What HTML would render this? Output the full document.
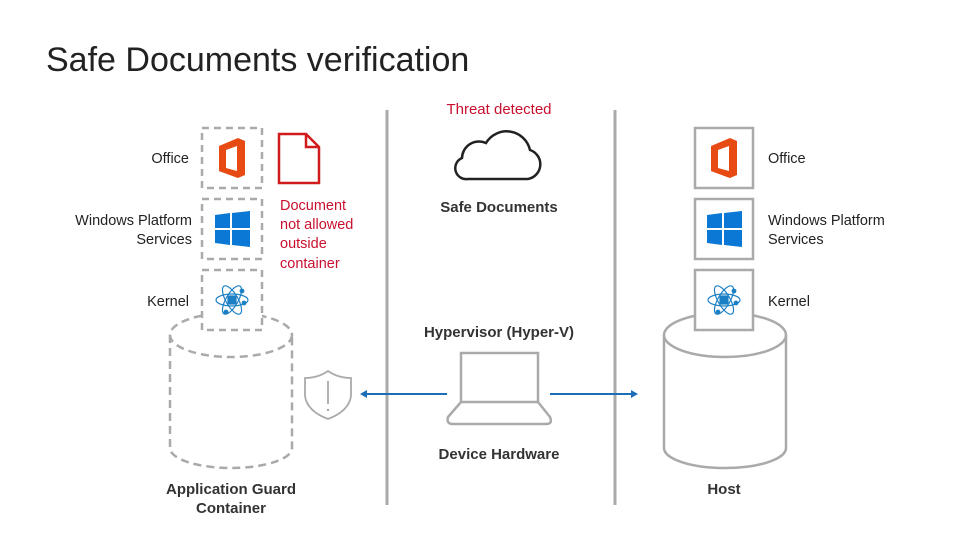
<!DOCTYPE html>
<html><head><meta charset="utf-8"><style>
body{margin:0;background:#fff}
svg{display:block}
text{font-family:"Liberation Sans",sans-serif}
</style></head><body>
<svg width="960" height="540" viewBox="0 0 960 540" xmlns="http://www.w3.org/2000/svg">
<defs>
<g id="office"><path d="M-13,-12 L6,-20 L13,-17 L13,17 L6,20 L-13,13 Z M-6,-8 L5,-12 L5,13 L-6,10 Z" fill="#e84a14" fill-rule="evenodd"/><path d="M-13,13 L5,13 L6,20 Z" fill="#e84a14"/></g>
<g id="win"><path d="M-17,-14 L-2,-16 L-2,-1 L-17,-1Z M0,-16 L18,-18 L18,-1 L0,-1Z M-17,1 L-2,1 L-2,16 L-17,14Z M0,1 L18,1 L18,18 L0,16Z" fill="#0a78d4"/></g>
<g id="atom" fill="none" stroke="#1a7fc4" stroke-width="1.2"><ellipse rx="16" ry="6"/><ellipse rx="16" ry="6" transform="rotate(60)"/><ellipse rx="16" ry="6" transform="rotate(-60)"/><rect x="-4" y="-4" width="8" height="8" fill="#1a7fc4"/><circle cx="10" cy="-9" r="1.8" fill="#1a7fc4"/><circle cx="-6" cy="12" r="1.8" fill="#1a7fc4"/><circle cx="12" cy="3" r="1.8" fill="#1a7fc4"/></g>
</defs>
<text x="46" y="71" font-size="34" fill="#222">Safe Documents verification</text>
<text x="499" y="114" font-size="15" fill="#c8102e" text-anchor="middle">Threat detected</text>
<line x1="387" y1="110" x2="387" y2="505" stroke="#aaa" stroke-width="3"/>
<line x1="615" y1="110" x2="615" y2="505" stroke="#aaa" stroke-width="3"/>
<g fill="none" stroke="#aaa" stroke-width="2.5" stroke-dasharray="8,5">
<ellipse cx="231" cy="335" rx="61" ry="22"/>
<path d="M170,335 L170,448 A61,20 0 0 0 292,448 L292,335"/>
</g>
<g fill="#fff" stroke="#aaa" stroke-width="2.5">
<path d="M664,335 L664,448 A61,20 0 0 0 786,448 L786,335" fill="none"/>
<ellipse cx="725" cy="335" rx="61" ry="22"/>
</g>
<g fill="#fff" stroke="#aaa" stroke-width="2.5" stroke-dasharray="7,5">
<rect x="202" y="128" width="60" height="60"/><rect x="202" y="199" width="60" height="60"/><rect x="202" y="270" width="60" height="60"/>
</g>
<g fill="#fff" stroke="#aaa" stroke-width="2.5">
<rect x="695" y="128" width="58" height="60"/><rect x="695" y="199" width="58" height="60"/><rect x="695" y="270" width="58" height="60"/>
</g>
<use href="#office" x="232" y="158"/><use href="#win" x="232" y="229"/><use href="#atom" x="232" y="300"/>
<use href="#office" x="724" y="158"/><use href="#win" x="724" y="229"/><use href="#atom" x="724" y="300"/>
<g font-size="14.5" fill="#222">
<text x="189" y="163" text-anchor="end">Office</text>
<text x="192" y="225" text-anchor="end">Windows Platform</text>
<text x="192" y="244" text-anchor="end">Services</text>
<text x="189" y="306" text-anchor="end">Kernel</text>
<text x="768" y="163">Office</text>
<text x="768" y="225">Windows Platform</text>
<text x="768" y="244">Services</text>
<text x="768" y="306">Kernel</text>
</g>
<path d="M279,134 L306,134 L319,147 L319,183 L279,183 Z M306,134 L306,147 L319,147" fill="none" stroke="#d01c1c" stroke-width="2.5"/>
<g font-size="14.5" fill="#c8102e"><text x="280" y="210">Document</text><text x="280" y="229">not allowed</text><text x="280" y="248">outside</text><text x="280" y="268">container</text></g>
<path d="M468,179 L528,179 A15,15 0 0 0 530,150 A24,24 0 0 0 486,143 A17,17 0 0 0 462,158 A11,11 0 0 0 468,179 Z" fill="none" stroke="#222" stroke-width="2.5"/>
<g font-size="15" font-weight="bold" fill="#333" text-anchor="middle">
<text x="499" y="212">Safe Documents</text>
<text x="499" y="337">Hypervisor (Hyper-V)</text>
<text x="499" y="459">Device Hardware</text>
<text x="231" y="494">Application Guard</text>
<text x="231" y="513">Container</text>
<text x="724" y="494">Host</text>
</g>
<g fill="none" stroke="#aaa" stroke-width="2.5">
<rect x="461" y="353" width="77" height="49"/>
<path d="M461,402 L448,417 Q446,424 453,424 L546,424 Q553,424 550,417 L538,402"/>
</g>
<g stroke="#1a6fb8" stroke-width="2"><line x1="447" y1="394" x2="364" y2="394"/><line x1="550" y1="394" x2="634" y2="394"/></g>
<path d="M360,394 L367,390 L367,398Z M638,394 L631,390 L631,398Z" fill="#1a6fb8"/>
<path d="M328,371 Q318,378 305,378 L305,396 Q307,411 328,419 Q349,411 351,396 L351,378 Q338,378 328,371 Z" fill="none" stroke="#aaa" stroke-width="1.8"/>
<line x1="328" y1="381" x2="328" y2="404" stroke="#aaa" stroke-width="1.8"/>
<circle cx="328" cy="410" r="1.2" fill="#aaa"/>
</svg>
</body></html>
